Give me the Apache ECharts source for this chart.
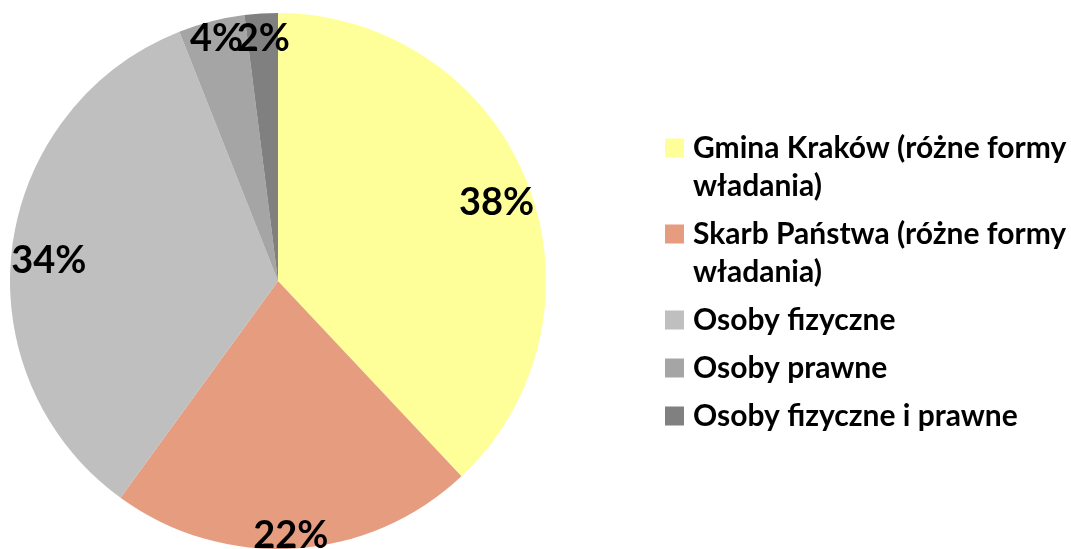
<!DOCTYPE html>
<html>
<head>
<meta charset="utf-8">
<script src="https://cdn.jsdelivr.net/npm/echarts@6/dist/echarts.min.js"></script>
<style>
html,body{margin:0;padding:0;background:#fff;}
#chart{width:1071px;height:549px;}
</style>
</head>
<body>
<div id="chart"></div>
<script>
// ---- data ----
const categories = [
  'Gmina Kraków (różne formy władania)',
  'Skarb Państwa (różne formy władania)',
  'Osoby fizyczne',
  'Osoby prawne',
  'Osoby fizyczne i prawne'
];
const legendLines = [
  ['Gmina Kraków (różne formy', 'władania)'],
  ['Skarb Państwa (różne formy', 'władania)'],
  ['Osoby fizyczne'],
  ['Osoby prawne'],
  ['Osoby fizyczne i prawne']
];
const values = [38, 22, 34, 4, 2];

// ---- styles ----
const colors = ['#FFFF99', '#E59C7F', '#BFBFBF', '#A5A5A5', '#808080'];
const labelNudge = [[0, 8], [-2, 20], [4, 9], [-3, -15], [0, -8]];
const FONT = 'Lato';
const LEG_FS = 30;

const chart = echarts.init(document.getElementById('chart'), null, {renderer: 'canvas'});

const rich = {
  t: {fontFamily: FONT, fontWeight: 'bold', fontSize: LEG_FS, color: '#000', lineHeight: 38},
  ind: {width: 28, height: 19, lineHeight: 38},
  gap: {width: 9, height: 19, lineHeight: 38}
};
colors.forEach((c, i) => { rich['m' + i] = {width: 19, height: 19, backgroundColor: c, lineHeight: 38}; });

const pieData = categories.map((n, i) => ({name: n, value: values[i], itemStyle: {color: colors[i]}}));
const labelData = categories.map((n, i) => ({
  name: n, value: values[i],
  label: {offset: labelNudge[i]}
}));

chart.setOption({
  animation: false,
  backgroundColor: '#fff',
  legend: {
    orient: 'vertical',
    left: 655,
    top: 128,
    itemWidth: 0,
    itemHeight: 0,
    itemGap: 18,
    icon: 'rect',
    selectedMode: false,
    data: categories,
    formatter: function (name) {
      const i = categories.indexOf(name);
      const lines = legendLines[i];
      let s = '{m' + i + '|}{gap|}{t|' + lines[0] + '}';
      for (let k = 1; k < lines.length; k++) s += '\n{ind|}{t|' + lines[k] + '}';
      return s;
    },
    textStyle: {rich: rich, fontFamily: FONT, fontWeight: 'bold', fontSize: LEG_FS, color: '#000'}
  },
  series: [
    {
      type: 'pie',
      center: [278, 281],
      radius: [0, 268],
      startAngle: 90,
      clockwise: true,
      silent: true,
      label: {show: false},
      labelLine: {show: false},
      itemStyle: {borderWidth: 0},
      data: pieData
    },
    {
      type: 'pie',
      center: [278, 281],
      radius: [196, 268],
      startAngle: 90,
      clockwise: true,
      silent: true,
      itemStyle: {color: 'rgba(0,0,0,0)', borderWidth: 0},
      labelLine: {show: false},
      label: {
        show: true,
        position: 'inside',
        formatter: '{c}%',
        fontFamily: FONT,
        fontWeight: 'bold',
        fontSize: 38,
        color: '#000'
      },
      labelLayout: {hideOverlap: false},
      data: labelData
    }
  ]
});
</script>
</body>
</html>
